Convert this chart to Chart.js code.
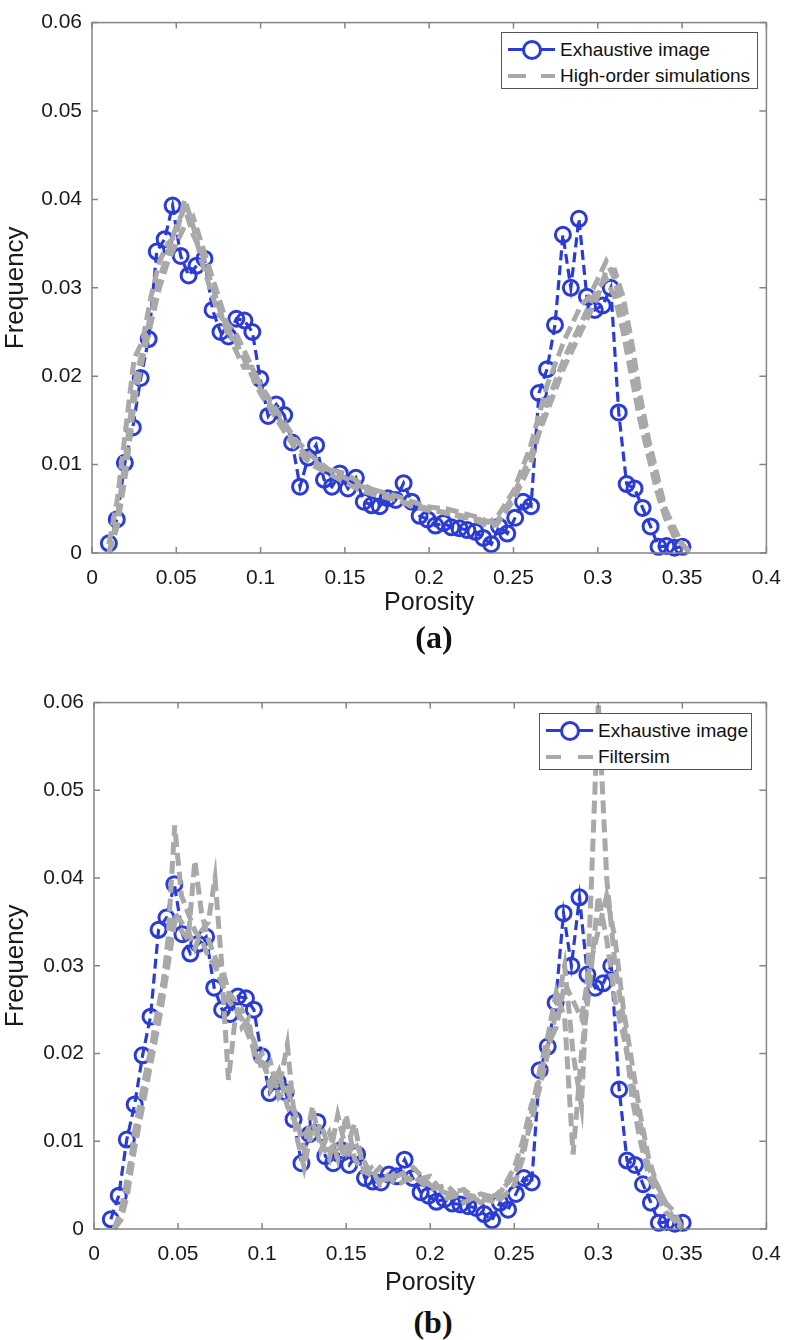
<!DOCTYPE html>
<html>
<head>
<meta charset="utf-8">
<script src="https://cdn.jsdelivr.net/npm/chart.js@4.4.1/dist/chart.umd.min.js"></script>
<style>
  body { margin: 0; background: #fff; }
  #wrap { position: relative; width: 794px; height: 1340px; font-family: 'Liberation Sans', Arial, sans-serif; }
  canvas { position: absolute; left: 0; }
  .legend { position: absolute; background: #fff; border: 1px solid #555; box-sizing: border-box; }
  .row { position: absolute; left: 0; height: 24px; width: 100%; }
  .row span { position: absolute; top: 0; line-height: 24px; font-size: 19px; color: #111; white-space: nowrap; }
  .bline { position: absolute; top: 10px; height: 3px; background: #2b3bd6; }
  .bdot { position: absolute; top: 2px; width: 14px; height: 14px; border: 3px solid #2b3bd6; border-radius: 50%; background: #fff; }
  .gdash { position: absolute; top: 10px; height: 4px; background: #a9a9a9; }
  .tag { position: absolute; font-family: 'Liberation Serif', 'Times New Roman', serif; font-weight: bold; font-size: 32px; color: #111; transform: translate(-50%, -50%); }
</style>
</head>
<body>
<div id="wrap">
  <canvas id="chartA" width="794" height="620" style="top:0"></canvas>
  <canvas id="chartB" width="794" height="620" style="top:680px"></canvas>

  <div class="legend" style="left:501px; top:32px; width:257px; height:57px;">
    <div class="row" style="top:5px">
      <div class="bline" style="left:6px; width:47px"></div>
      <div class="bdot" style="left:20px"></div>
      <span style="left:58px">Exhaustive image</span>
    </div>
    <div class="row" style="top:31px">
      <div class="gdash" style="left:6px; width:18px"></div>
      <div class="gdash" style="left:39px; width:14px"></div>
      <span style="left:58px">High-order simulations</span>
    </div>
  </div>

  <div class="legend" style="left:539px; top:713px; width:213px; height:57px;">
    <div class="row" style="top:5px">
      <div class="bline" style="left:6px; width:47px"></div>
      <div class="bdot" style="left:20px"></div>
      <span style="left:58px">Exhaustive image</span>
    </div>
    <div class="row" style="top:31px">
      <div class="gdash" style="left:6px; width:15px"></div>
      <div class="gdash" style="left:38px; width:15px"></div>
      <span style="left:58px">Filtersim</span>
    </div>
  </div>

  <div class="tag" style="left:434px; top:637px">(a)</div>
  <div class="tag" style="left:433px; top:1322px">(b)</div>
</div>

<script>
// tick labels
const xTickLabels = ['0', '0.05', '0.1', '0.15', '0.2', '0.25', '0.3', '0.35', '0.4'];
const yTickLabels = ['0', '0.01', '0.02', '0.03', '0.04', '0.05', '0.06'];

// exhaustive image (same in both panels)
const exhaustiveX = [0.0100, 0.0147, 0.0195, 0.0242, 0.0289, 0.0336, 0.0384, 0.0431, 0.0478, 0.0526,
  0.0573, 0.0620, 0.0667, 0.0715, 0.0762, 0.0809, 0.0856, 0.0904, 0.0951, 0.0998,
  0.1045, 0.1093, 0.1140, 0.1187, 0.1234, 0.1282, 0.1329, 0.1376, 0.1423, 0.1470,
  0.1518, 0.1565, 0.1612, 0.1659, 0.1707, 0.1754, 0.1801, 0.1848, 0.1896, 0.1943,
  0.1990, 0.2037, 0.2085, 0.2132, 0.2179, 0.2226, 0.2274, 0.2321, 0.2368, 0.2415,
  0.2463, 0.2510, 0.2557, 0.2604, 0.2651, 0.2699, 0.2746, 0.2793, 0.2840, 0.2888,
  0.2935, 0.2982, 0.3029, 0.3077, 0.3124, 0.3171, 0.3218, 0.3266, 0.3313, 0.3360,
  0.3407, 0.3455, 0.3502];
const exhaustiveY = [0.0011, 0.0038, 0.0102, 0.0142, 0.0198, 0.0242, 0.0341, 0.0355, 0.0393, 0.0336,
  0.0314, 0.0325, 0.0333, 0.0275, 0.0250, 0.0245, 0.0265, 0.0263, 0.0250, 0.0197,
  0.0155, 0.0168, 0.0156, 0.0125, 0.0075, 0.0108, 0.0122, 0.0083, 0.0075, 0.0090,
  0.0073, 0.0085, 0.0058, 0.0054, 0.0053, 0.0062, 0.0060, 0.0079, 0.0058, 0.0042,
  0.0038, 0.0031, 0.0034, 0.0029, 0.0028, 0.0026, 0.0024, 0.0017, 0.0010, 0.0030,
  0.0022, 0.0040, 0.0058, 0.0053, 0.0181, 0.0208, 0.0258, 0.0360, 0.0300, 0.0378,
  0.0290, 0.0275, 0.0280, 0.0300, 0.0159, 0.0078, 0.0073, 0.0051, 0.0030, 0.0007,
  0.0008, 0.0006, 0.0007];

// (a) high-order simulations
const simX = [0.010, 0.015, 0.020, 0.025, 0.030, 0.035, 0.040, 0.045, 0.050, 0.055,
  0.060, 0.065, 0.070, 0.075, 0.080, 0.085, 0.090, 0.095, 0.100, 0.110,
  0.120, 0.130, 0.140, 0.150, 0.160, 0.170, 0.180, 0.190, 0.200, 0.210,
  0.220, 0.230, 0.235, 0.240, 0.250, 0.260, 0.270, 0.280, 0.290, 0.295,
  0.300, 0.305, 0.310, 0.315, 0.320, 0.325, 0.330, 0.335, 0.340, 0.345,
  0.350, 0.355];
const sim1 = [0.000, 0.004, 0.011, 0.019, 0.023, 0.027, 0.031, 0.034, 0.037, 0.039,
  0.036, 0.034, 0.031, 0.028, 0.025, 0.024, 0.022, 0.020, 0.018, 0.015,
  0.012, 0.010, 0.009, 0.008, 0.007, 0.0065, 0.006, 0.0055, 0.005, 0.0045,
  0.0042, 0.0035, 0.003, 0.0032, 0.006, 0.010, 0.017, 0.022, 0.026, 0.028,
  0.030, 0.031, 0.029, 0.025, 0.020, 0.015, 0.011, 0.007, 0.004, 0.002,
  0.001, 0.000];
const sim2 = [0.001, 0.006, 0.014, 0.022, 0.024, 0.029, 0.033, 0.035, 0.036, 0.040,
  0.037, 0.033, 0.030, 0.027, 0.026, 0.023, 0.021, 0.021, 0.019, 0.016,
  0.013, 0.011, 0.0095, 0.0085, 0.0075, 0.007, 0.0065, 0.0058, 0.0052, 0.005,
  0.0045, 0.004, 0.0035, 0.004, 0.007, 0.012, 0.019, 0.024, 0.028, 0.029,
  0.031, 0.033, 0.031, 0.027, 0.022, 0.017, 0.012, 0.008, 0.005, 0.003,
  0.001, 0.000];
const sim3 = [0.000, 0.003, 0.009, 0.017, 0.022, 0.026, 0.030, 0.033, 0.035, 0.037,
  0.038, 0.035, 0.032, 0.029, 0.026, 0.025, 0.023, 0.021, 0.0185, 0.0155,
  0.0125, 0.0105, 0.0095, 0.009, 0.0078, 0.0068, 0.0062, 0.0052, 0.0048, 0.0046,
  0.004, 0.0038, 0.0032, 0.0035, 0.0065, 0.011, 0.016, 0.021, 0.025, 0.027,
  0.029, 0.032, 0.032, 0.029, 0.024, 0.018, 0.013, 0.009, 0.005, 0.002,
  0.001, 0.000];

// (b) filtersim
const filtX = [0.012, 0.016, 0.020, 0.024, 0.028, 0.032, 0.036, 0.040, 0.044, 0.048,
  0.052, 0.056, 0.060, 0.064, 0.068, 0.072, 0.076, 0.080, 0.084, 0.088,
  0.092, 0.096, 0.100, 0.105, 0.110, 0.115, 0.120, 0.125, 0.130, 0.135,
  0.140, 0.145, 0.150, 0.155, 0.160, 0.165, 0.170, 0.180, 0.190, 0.200,
  0.210, 0.220, 0.230, 0.240, 0.250, 0.255, 0.260, 0.265, 0.270, 0.275,
  0.280, 0.285, 0.290, 0.295, 0.300, 0.305, 0.310, 0.315, 0.320, 0.325,
  0.330, 0.335, 0.340, 0.345, 0.350];
const filt1 = [0.000, 0.002, 0.005, 0.011, 0.015, 0.019, 0.022, 0.026, 0.033, 0.046,
  0.038, 0.036, 0.034, 0.033, 0.031, 0.030, 0.028, 0.026, 0.025, 0.024,
  0.022, 0.020, 0.019, 0.017, 0.016, 0.021, 0.011, 0.007, 0.012, 0.010,
  0.008, 0.013, 0.009, 0.012, 0.007, 0.006, 0.0055, 0.006, 0.007, 0.005,
  0.004, 0.0045, 0.003, 0.004, 0.006, 0.009, 0.012, 0.016, 0.020, 0.025,
  0.030, 0.020, 0.014, 0.035, 0.060, 0.040, 0.030, 0.024, 0.015, 0.010,
  0.006, 0.004, 0.002, 0.001, 0.000];
const filt2 = [0.000, 0.001, 0.004, 0.009, 0.013, 0.017, 0.021, 0.025, 0.030, 0.035,
  0.034, 0.033, 0.042, 0.036, 0.033, 0.031, 0.029, 0.017, 0.024, 0.025,
  0.023, 0.021, 0.018, 0.019, 0.015, 0.016, 0.013, 0.009, 0.014, 0.009,
  0.011, 0.008, 0.013, 0.008, 0.0065, 0.007, 0.005, 0.0065, 0.0055, 0.006,
  0.0035, 0.004, 0.0035, 0.003, 0.005, 0.008, 0.013, 0.018, 0.022, 0.027,
  0.024, 0.0085, 0.020, 0.028, 0.038, 0.033, 0.026, 0.022, 0.017, 0.012,
  0.007, 0.005, 0.003, 0.001, 0.000];
const filt3 = [0.000, 0.002, 0.006, 0.010, 0.014, 0.018, 0.023, 0.027, 0.031, 0.036,
  0.035, 0.034, 0.032, 0.034, 0.035, 0.040, 0.030, 0.027, 0.026, 0.023,
  0.024, 0.019, 0.020, 0.016, 0.018, 0.014, 0.012, 0.011, 0.010, 0.012,
  0.009, 0.010, 0.008, 0.010, 0.008, 0.006, 0.007, 0.005, 0.006, 0.0045,
  0.005, 0.003, 0.004, 0.0035, 0.007, 0.010, 0.014, 0.017, 0.021, 0.023,
  0.028, 0.026, 0.024, 0.030, 0.034, 0.038, 0.033, 0.025, 0.019, 0.013,
  0.008, 0.005, 0.003, 0.002, 0.000];

const blue = '#2b3bd6';
const gray = '#a9a9a9';
const axisGray = '#858585';
const fontFam = "'Liberation Sans', Arial, sans-serif";

function pts(xs, ys) {
  return xs.map((x, i) => ({ x: x, y: ys[i] }));
}

function grayLine(xs, ys) {
  return {
    data: pts(xs, ys),
    showLine: true,
    borderColor: gray,
    borderWidth: 5,
    borderDash: [13, 6],
    pointRadius: 0,
    clip: false,
    order: 0
  };
}

function blueLine() {
  return {
    data: pts(exhaustiveX, exhaustiveY),
    showLine: true,
    borderColor: blue,
    borderWidth: 3.2,
    borderDash: [10, 5],
    pointRadius: 7.5,
    pointBorderWidth: 3,
    pointBorderColor: blue,
    pointBackgroundColor: 'rgba(0,0,0,0)',
    clip: false,
    order: 1
  };
}

// box round the plot with inward ticks, MATLAB style
const frameBox = {
  id: 'frameBox',
  afterDraw(chart) {
    const { ctx, chartArea: a, scales: { x, y } } = chart;
    ctx.save();
    ctx.strokeStyle = axisGray;
    ctx.lineWidth = 1.5;
    ctx.strokeRect(a.left, a.top, a.right - a.left, a.bottom - a.top);
    ctx.beginPath();
    x.ticks.forEach(t => {
      const px = x.getPixelForValue(t.value);
      ctx.moveTo(px, a.bottom); ctx.lineTo(px, a.bottom - 6);
      ctx.moveTo(px, a.top); ctx.lineTo(px, a.top + 6);
    });
    y.ticks.forEach(t => {
      const py = y.getPixelForValue(t.value);
      ctx.moveTo(a.left, py); ctx.lineTo(a.left + 6, py);
      ctx.moveTo(a.right, py); ctx.lineTo(a.right - 7, py);
    });
    ctx.stroke();
    ctx.restore();
  }
};

function makeChart(id, datasets, yWidth, xHeight, pad) {
  new Chart(document.getElementById(id), {
    type: 'scatter',
    data: { datasets: datasets },
    plugins: [frameBox],
    options: {
      responsive: false,
      animation: false,
      layout: { padding: pad },
      plugins: { legend: { display: false }, tooltip: { enabled: false } },
      scales: {
        x: {
          type: 'linear', min: 0, max: 0.4,
          grid: { display: false, drawTicks: false },
          border: { display: false },
          afterFit: s => { s.height = xHeight; },
          ticks: {
            stepSize: 0.05, padding: 13, color: '#1a1a1a',
            font: { family: fontFam, size: 21 },
            maxRotation: 0,
            callback: (v, i) => xTickLabels[i]
          },
          title: {
            display: true, text: 'Porosity', color: '#1a1a1a',
            font: { family: fontFam, size: 25 },
            padding: { top: 0, bottom: 2 }
          }
        },
        y: {
          type: 'linear', min: 0, max: 0.06,
          grid: { display: false, drawTicks: false },
          border: { display: false },
          afterFit: s => { s.width = yWidth; },
          ticks: {
            stepSize: 0.01, padding: 10, color: '#1a1a1a',
            font: { family: fontFam, size: 21 },
            callback: (v, i) => yTickLabels[i]
          },
          title: {
            display: true, text: 'Frequency', color: '#1a1a1a',
            font: { family: fontFam, size: 26 },
            padding: { top: 0, bottom: 0 }
          }
        }
      }
    }
  });
}

makeChart('chartA',
  [grayLine(simX, sim1), grayLine(simX, sim2), grayLine(simX, sim3), blueLine()],
  92, 67, { top: 12, right: 16, left: 0, bottom: 0 });

makeChart('chartB',
  [grayLine(filtX, filt1), grayLine(filtX, filt2), grayLine(filtX, filt3), blueLine()],
  94, 71, { top: 14, right: 21, left: 0, bottom: 0 });
</script>
</body>
</html>
